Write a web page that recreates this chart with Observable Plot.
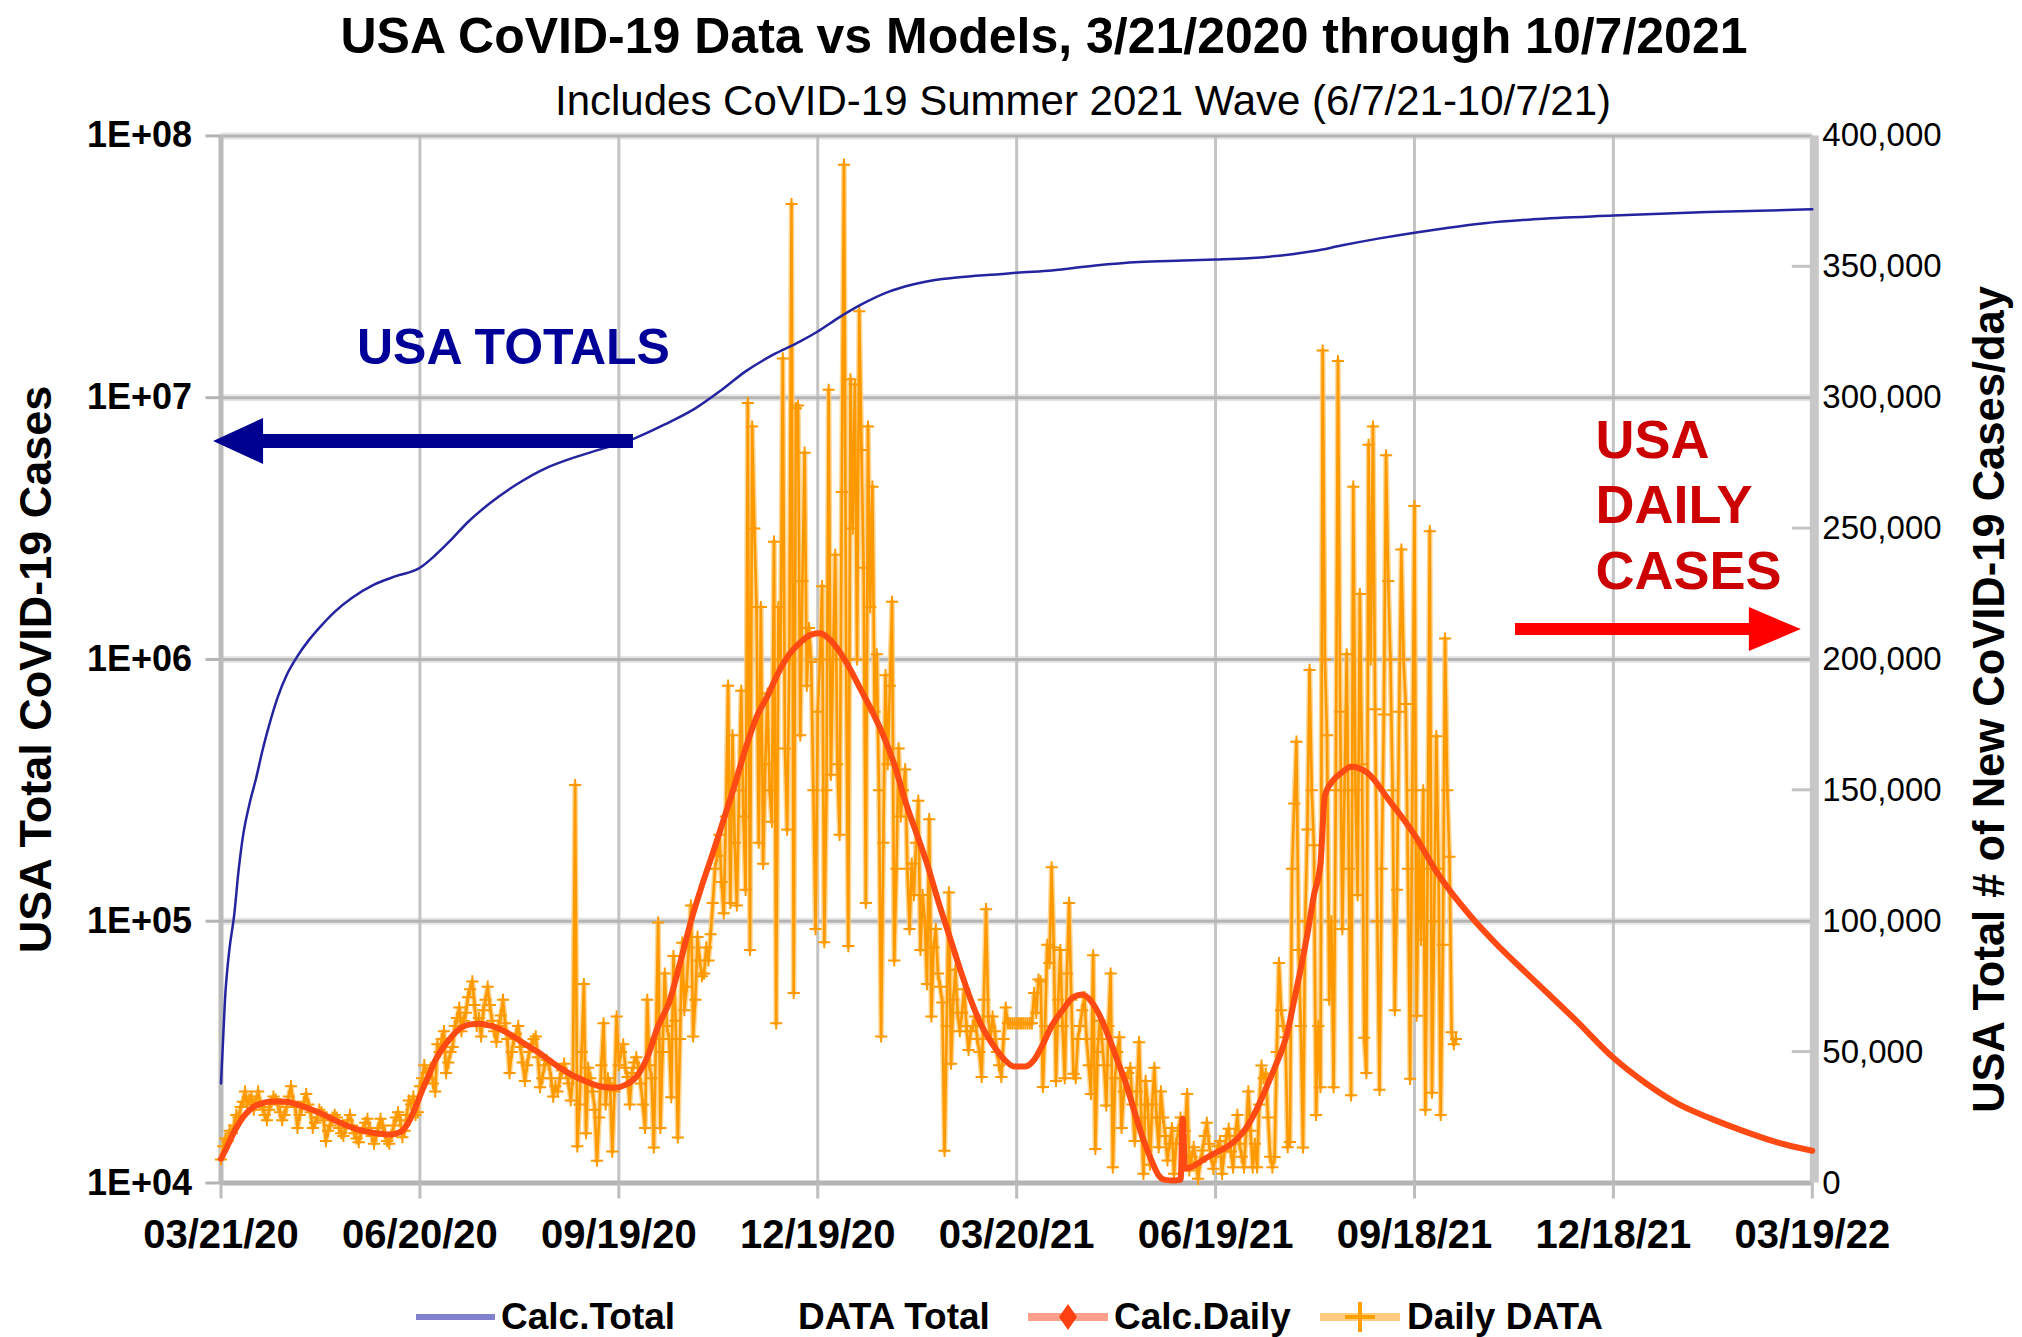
<!DOCTYPE html>
<html>
<head>
<meta charset="utf-8">
<script src="https://cdn.jsdelivr.net/npm/d3@7"></script>
<script src="https://cdn.jsdelivr.net/npm/@observablehq/plot@0.6"></script>
<style>
  html, body { margin: 0; padding: 0; background: #fff; }
  #wrap { position: relative; width: 2022px; height: 1337px; overflow: hidden; background: #fff;
          font-family: "Liberation Sans", Arial, Helvetica, sans-serif; }
  #chart { position: absolute; left: 0; top: 90px; }
  .hdr { position: absolute; width: 2022px; text-align: center; white-space: nowrap; color: #000; }
  #title { left: 33px; top: 9px; font-size: 50px; line-height: 54px; font-weight: bold; }
  #subtitle { left: 72px; top: 78px; font-size: 42px; line-height: 46px; font-weight: normal; }
  #legend { position: absolute; left: 0; top: 1284px; }
</style>
</head>
<body>
<div id="wrap">
  <div id="chart"></div>
  <div id="title" class="hdr">USA CoVID-19 Data vs Models, 3/21/2020 through 10/7/2021</div>
  <div id="subtitle" class="hdr">Includes CoVID-19 Summer 2021 Wave (6/7/21-10/7/21)</div>
  <svg id="legend" width="2022" height="53" xmlns="http://www.w3.org/2000/svg"></svg>
</div>
<script>
// ---------------- DATA ----------------
const startDate = "2020-03-21";
const endDate = "2022-03-19";
const xTickDates = ["2020-03-21","2020-06-20","2020-09-19","2020-12-19","2021-03-20","2021-06-19","2021-09-18","2021-12-18","2022-03-19"];
const leftTickValues = [0, 100000, 200000, 300000, 400000];
const leftTickLabels = ["1E+04", "1E+05", "1E+06", "1E+07", "1E+08"];
const rightTickValues = [0, 50000, 100000, 150000, 200000, 250000, 300000, 350000, 400000];
const rightMinorTicks = [50000, 150000, 250000, 350000];

// Daily DATA: new cases per day (thousands), one value per day from 3/21/2020 to 10/7/2021
const dailyCasesK = [
  9, 14, 17, 16, 20, 19, 22, 26, 25, 29,
  31, 35, 30, 32, 33, 28, 31, 35, 30, 29,
  26, 24, 28, 31, 33, 32, 30, 27, 24, 26,
  29, 33, 37, 31, 29, 21, 26, 29, 31, 34,
  30, 27, 21, 23, 25, 28, 27, 24, 16, 20,
  22, 25, 26, 25, 21, 19, 18, 21, 24, 26,
  22, 19, 17, 15.6, 19, 21, 23, 24.5, 21, 18,
  15, 18, 21, 24.5, 22, 19, 16, 15, 18, 22,
  25, 27, 24, 17.5, 20, 26, 31.5, 30, 33, 26,
  27, 37, 40, 45, 42, 40, 44, 38, 35, 53,
  50, 55, 58, 42, 46, 50, 52, 60, 63, 67,
  58, 62, 65, 71, 74, 77, 68, 60, 63, 56,
  66, 70, 75, 68, 62, 58, 54, 60, 64, 70,
  61, 55, 42, 50, 55, 57, 60, 52, 46, 39,
  45, 50, 53, 55, 56, 48, 36.6, 40, 45, 47,
  45.5, 40, 33, 37, 35, 40, 43, 45.6, 42, 38,
  31.5, 40, 152, 14, 30, 50, 76, 19, 44, 40,
  35, 28, 8.5, 25, 45, 61, 30, 40, 38, 12,
  35, 63.6, 45, 50, 53, 44, 40.5, 30, 42, 46,
  48, 44, 38, 30, 21, 70, 45, 40, 13.6, 55,
  99.5, 21, 50, 80, 60, 55, 32.8, 86.7, 62, 17.4,
  55, 91.8, 66, 75, 90, 106, 56, 70, 94, 85,
  79, 80, 90, 85, 95, 107, 120, 125, 133, 115,
  103, 140, 190, 107, 171, 130, 106, 150, 188, 140,
  112, 298, 89, 289, 250, 220, 130, 220, 122, 160,
  187, 150, 138, 245, 61, 220, 200, 315, 166, 135,
  200, 374, 72.6, 296, 297, 171, 230, 279, 190, 212,
  199, 150, 97, 180, 200, 228, 92, 150, 303, 156,
  200, 240, 160, 133, 264, 389, 200, 90.5, 307, 250,
  305, 200, 333, 280, 235, 107, 289, 220, 266, 180,
  202, 150, 56, 130, 194, 160, 190, 222, 85, 120,
  166, 140, 150, 158, 120, 97, 122, 110, 130, 146,
  89, 110, 100, 76, 139, 63.6, 90, 97, 80, 75,
  69, 12.3, 60, 111, 45.6, 70, 81.5, 65, 58, 65,
  74, 60, 50.8, 58, 60, 63.6, 55, 50, 40.5, 70,
  104.6, 63.6, 55, 63.6, 58, 50, 45, 40.5, 55, 67,
  61, 61, 61, 61, 61, 61, 61, 61, 61, 61,
  61, 61, 72.6, 65, 77.7, 77, 36.7, 60, 91, 84,
  120.6, 90, 39, 70, 89, 60, 40, 80, 107, 70,
  41.7, 40, 55, 60, 66, 71, 55, 45, 34, 87,
  13, 50, 62, 55, 45, 29.6, 60, 80, 6, 40,
  50, 55.7, 21, 35, 40, 42, 44, 30, 16, 35,
  53.8, 25, 3.5, 39, 30, 7, 30, 44, 25, 13.7,
  35, 25, 18, 8.6, 15, 21, 3.5, 15, 20, 25,
  18, 20, 34, 4.8, 10, 13.7, 8, 1.6, 8, 12.4,
  18, 23, 15, 10, 5.4, 10, 14, 16, 3.5, 12,
  18, 20.7, 12, 6, 18, 26, 15, 10, 6, 20,
  35, 20, 6, 15, 6, 30, 44.9, 40, 41.7, 25,
  10, 6, 9.9, 50, 84, 66, 60, 55.7, 13.7, 15.7,
  120, 145, 168.6, 89, 60, 13.6, 100, 135, 196, 150,
  129, 26, 60, 36.6, 318, 200, 171, 70, 100, 36.6,
  150, 314, 180, 97, 150, 202, 120, 33.5, 266, 150,
  110, 225, 160, 55.5, 42, 282, 200, 289, 181, 100,
  35.6, 120, 179, 278, 230, 200, 150, 66, 112, 180,
  242, 200, 183, 120, 39.8, 150, 258.6, 63.9, 130, 93,
  150, 28, 120, 249, 34.5, 100, 170.7, 120, 26, 91,
  208, 150, 124.6, 57.6, 53, 55
];

// Calc.Daily model curve (day offset from 3/21/2020, thousands of cases/day)
const calcDailyDays = [0, 2, 4, 6, 8, 10, 13, 16, 19, 22, 26, 30, 34, 38, 42, 46, 50, 54, 58, 62, 66, 70, 74, 77, 80, 83, 86, 89, 92, 95, 98, 101, 104, 107, 110, 114, 118, 122, 126, 130, 135, 140, 145, 150, 155, 160, 165, 170, 175, 180, 185, 190, 195, 200, 205, 210, 215, 220, 225, 230, 235, 240, 245, 250, 255, 260, 265, 270, 274, 278, 283, 288, 293, 298, 303, 308, 313, 318, 323, 328, 333, 338, 343, 348, 353, 358, 363, 368, 372, 376, 380, 385, 390, 394, 398, 402, 406, 410, 414, 418, 422, 426, 429, 432, 436, 439, 440, 441, 445, 450, 455, 460, 465, 469, 474, 478, 482, 485, 488, 491, 494, 497, 500, 503, 505, 509, 513, 517, 524, 535, 546, 556, 572, 585, 600, 620, 637, 652, 667, 682, 696, 712, 728];
const calcDailyK    = [9.2, 12.5, 16, 19.5, 22.5, 25, 27.8, 29.6, 30.5, 31, 31.1, 31, 30.2, 29.1, 27.9, 26.5, 24.8, 23.2, 21.8, 20.6, 19.7, 19.1, 18.7, 18.5, 18.9, 20, 23.5, 29, 35.3, 41, 46.8, 51, 54.4, 57.3, 59.4, 60.6, 60.8, 60.3, 59.4, 57.8, 55.3, 52.6, 50, 47, 44, 41.5, 39.5, 37.8, 36.7, 36.4, 37.5, 40.5, 48, 60, 69, 84, 100, 113.6, 126, 139, 152, 166, 178, 186, 195, 202, 206.5, 209.5, 210, 208, 203, 196, 188, 180, 171, 160, 146, 134, 122, 108, 95, 82, 70, 60, 53, 47.5, 44.5, 44.5, 47, 53, 60, 66, 71, 72, 69.5, 64, 56, 47, 38, 27, 16.5, 8, 2.9, 1.2, 1, 1.2, 24.5, 5.5, 6.5, 9.2, 11.5, 13.7, 17, 21, 28.5, 36, 44, 50, 58, 70, 82, 95, 110, 122, 148, 154, 157, 159, 157, 145.5, 133, 119, 101.6, 90, 78, 62, 47.8, 38, 30, 24.5, 20, 15.5, 12.3];

// Calc.Total model curve (day offset from 3/21/2020, total cases in millions)
const calcTotalDays = [0, 1, 2, 3, 4, 6, 8, 10, 13, 16, 19, 22, 26, 30, 35, 40, 46, 52, 60, 70, 80, 91, 98, 105, 113, 123, 135, 148, 160, 175, 189, 203, 217, 229, 240, 252, 265, 273, 283, 293, 305, 316, 330, 345, 356, 364, 380, 400, 420, 440, 455, 470, 490, 500, 513, 530, 546, 560, 578, 600, 637, 680, 728];
const calcTotalM    = [0.024, 0.036, 0.053, 0.067, 0.08, 0.105, 0.155, 0.21, 0.28, 0.35, 0.45, 0.56, 0.72, 0.87, 1.03, 1.18, 1.35, 1.52, 1.72, 1.93, 2.08, 2.24, 2.5, 2.85, 3.35, 3.95, 4.65, 5.35, 5.85, 6.4, 6.98, 7.9, 9.1, 10.7, 12.6, 14.5, 16.4, 17.9, 20.3, 22.7, 25.3, 27.0, 28.4, 29.2, 29.6, 30.0, 30.6, 32.0, 33.0, 33.4, 33.7, 34.1, 35.3, 36.3, 38.2, 40.6, 42.7, 44.4, 46.4, 48.0, 49.6, 51.2, 52.4];

// Annotations (anchored in data space: day offset, value on the daily axis)
const totalsLabel = [{day: 133.8, value: 318800, text: "USA TOTALS"}];
const dailyLabel = [{day: 628.8, value: 260000, text: "USA\nDAILY\nCASES"}];
const totalsArrow = {fromDay: 188.7, toDay: -3.4, value: 283300};
const dailyArrow = {fromDay: 592.2, toDay: 723, value: 211400};

// ---------------- BUILD ----------------
const FONT = '"Liberation Sans", Arial, Helvetica, sans-serif';
const DAY = 864e5;
const t0 = new Date(startDate + "T00:00:00Z").getTime();
const dayToDate = d => new Date(t0 + d * DAY);
const parse = s => new Date(s + "T00:00:00Z");

const daily = dailyCasesK.map((v, i) => ({date: dayToDate(i), value: v * 1000}));
const calcDaily = calcDailyDays.map((d, i) => ({date: dayToDate(d), value: calcDailyK[i] * 1000}));
const calcTotal = calcTotalDays.map((d, i) => ({date: dayToDate(d), total: calcTotalM[i] * 1e6}));
const logToAxis = t => (Math.log10(t) - 4) * 100000; // 1E+04..1E+08 mapped onto 0..400,000

const ticksX = xTickDates.map(parse);
const pad2 = n => String(n).padStart(2, "0");
const fmtX = d => `${pad2(d.getUTCMonth() + 1)}/${pad2(d.getUTCDate())}/${pad2(d.getUTCFullYear() % 100)}`;
const fmtLeft = v => leftTickLabels[leftTickValues.indexOf(v)];
const fmtRight = d3.format(",");

const svgNS = "http://www.w3.org/2000/svg";
function arrowMark(a, fill, shaft, headLen, headH) {
  return (index, scales) => {
    const x0 = scales.x(dayToDate(a.fromDay)), x1 = scales.x(dayToDate(a.toDay)), y = scales.y(a.value);
    const dir = Math.sign(x1 - x0);
    const hx = x1 - dir * headLen;
    const p = document.createElementNS(svgNS, "path");
    p.setAttribute("d",
      `M${x0},${y - shaft / 2}L${hx},${y - shaft / 2}L${hx},${y - headH / 2}L${x1},${y}` +
      `L${hx},${y + headH / 2}L${hx},${y + shaft / 2}L${x0},${y + shaft / 2}Z`);
    p.setAttribute("fill", fill);
    return p;
  };
}
function rightMinorMark() {
  return (index, scales, values, dims) => {
    const g = document.createElementNS(svgNS, "g");
    const xr = dims.width - dims.marginRight;
    for (const v of rightMinorTicks) {
      const l = document.createElementNS(svgNS, "line");
      const y = scales.y(v);
      l.setAttribute("x1", xr - 20); l.setAttribute("x2", xr);
      l.setAttribute("y1", y); l.setAttribute("y2", y);
      l.setAttribute("stroke", "#c4c4c4"); l.setAttribute("stroke-width", 3);
      g.appendChild(l);
    }
    return g;
  };
}

const plot = Plot.plot({
  width: 2022,
  height: 1180,
  marginLeft: 220.5,
  marginRight: 210.2,
  marginTop: 45.4,
  marginBottom: 87.5,
  style: {background: "transparent", fontFamily: FONT, overflow: "visible"},
  x: {type: "utc", domain: [parse(startDate), parse(endDate)]},
  y: {domain: [0, 400000]},
  marks: [
    // grid
    Plot.ruleY([100000, 200000, 300000, 400000], {stroke: "#e6e6e6", strokeWidth: 7}),
    Plot.ruleX(ticksX, {stroke: "#c4c4c4", strokeWidth: 3}),
    Plot.ruleY([100000, 200000, 300000, 400000], {stroke: "#b4b4b4", strokeWidth: 3}),
    Plot.ruleY([0], {stroke: "#b4b4b4", strokeWidth: 5}),
    Plot.ruleX([parse(startDate)], {stroke: "#bbbbbb", strokeWidth: 5}),
    Plot.ruleX([parse(endDate)], {stroke: "#c8c8c8", strokeWidth: 9, dx: 2}),
    rightMinorMark(),
    // axes
    Plot.axisX({ticks: ticksX, tickFormat: fmtX, tickSize: 16, tickPadding: 21, fontSize: 40,
                fontWeight: "bold", stroke: "#bdbdbd", strokeWidth: 3, label: null}),
    Plot.axisY({anchor: "left", ticks: leftTickValues, tickFormat: fmtLeft, tickSize: 15, tickPadding: 14,
                fontSize: 36, fontWeight: "bold", stroke: "#b4b4b4", strokeWidth: 3, label: null}),
    Plot.axisY({anchor: "right", ticks: rightTickValues, tickFormat: fmtRight, tickSize: 0, tickPadding: 10,
                fontSize: 33, label: null}),
    Plot.text(["USA Total CoVID-19 Cases"], {frameAnchor: "left", textAnchor: "middle", dx: -184, dy: 10, rotate: -90,
                fontSize: 45, fontWeight: "bold", fill: "#000"}),
    Plot.text(["USA Total # of New CoVID-19 Cases/day"], {frameAnchor: "right", textAnchor: "middle", dx: 178, dy: 40, rotate: -90,
                fontSize: 43.5, fontWeight: "bold", fill: "#000"}),
    // Daily DATA
    Plot.line(daily, {x: "date", y: "value", stroke: "#ffc870", strokeWidth: 5.5, strokeOpacity: 0.75}),
    Plot.line(daily, {x: "date", y: "value", stroke: "#ff9900", strokeWidth: 2.6}),
    Plot.dot(daily, {x: "date", y: "value", symbol: "plus", r: 4, stroke: "#ff9900", strokeWidth: 2}),
    // Calc.Daily
    Plot.line(calcDaily, {x: "date", y: "value", stroke: "#ff4a14", strokeWidth: 6, curve: "monotone-x"}),
    // Calc.Total
    Plot.line(calcTotal, {x: "date", y: d => logToAxis(d.total), stroke: "#2424a0", strokeWidth: 2.5, curve: "monotone-x"}),
    // annotations
    arrowMark(totalsArrow, "#000090", 14, 50, 46),
    arrowMark(dailyArrow, "#ff0000", 12, 52, 44),
    Plot.text(totalsLabel, {x: d => dayToDate(d.day), y: "value", text: "text", fontSize: 50,
                fontWeight: "bold", fill: "#000099"}),
    Plot.text(dailyLabel, {x: d => dayToDate(d.day), y: "value", text: "text", fontSize: 54, lineHeight: 1.22,
                textAnchor: "start", fontWeight: "bold", fill: "#cc0000"})
  ]
});
document.getElementById("chart").appendChild(plot);

// ---------------- LEGEND ----------------
const legendItems = [
  {label: "Calc.Total", tx: 501, swatch: "line", x1: 416, x2: 495, color: "#8080cc", mark: null},
  {label: "DATA Total", tx: 798, swatch: null},
  {label: "Calc.Daily", tx: 1114, swatch: "line", x1: 1028, x2: 1108, color: "#ffa08c", mark: "diamond", mcolor: "#ff4010"},
  {label: "Daily DATA", tx: 1407, swatch: "line", x1: 1320, x2: 1400, color: "#ffcc80", mark: "plus", mcolor: "#ffa000"}
];
const leg = d3.select("#legend");
const ly = 33;
for (const it of legendItems) {
  if (it.swatch) {
    leg.append("line").attr("x1", it.x1).attr("x2", it.x2).attr("y1", ly).attr("y2", ly)
      .attr("stroke", it.color).attr("stroke-width", it.mark ? 8 : 6);
    const cx = (it.x1 + it.x2) / 2;
    if (it.mark === "diamond") {
      leg.append("path").attr("d", `M${cx},${ly - 13}L${cx + 9},${ly}L${cx},${ly + 13}L${cx - 9},${ly}Z`).attr("fill", it.mcolor);
    } else if (it.mark === "plus") {
      leg.append("path").attr("d", `M${cx},${ly - 15}V${ly + 15}M${cx - 15},${ly}H${cx + 15}`)
        .attr("stroke", it.mcolor).attr("stroke-width", 4).attr("fill", "none");
    }
  }
  leg.append("text").attr("x", it.tx).attr("y", ly + 12).attr("font-family", FONT).attr("font-size", 37)
    .attr("font-weight", "bold").attr("fill", "#000").text(it.label);
}
</script>
</body>
</html>
